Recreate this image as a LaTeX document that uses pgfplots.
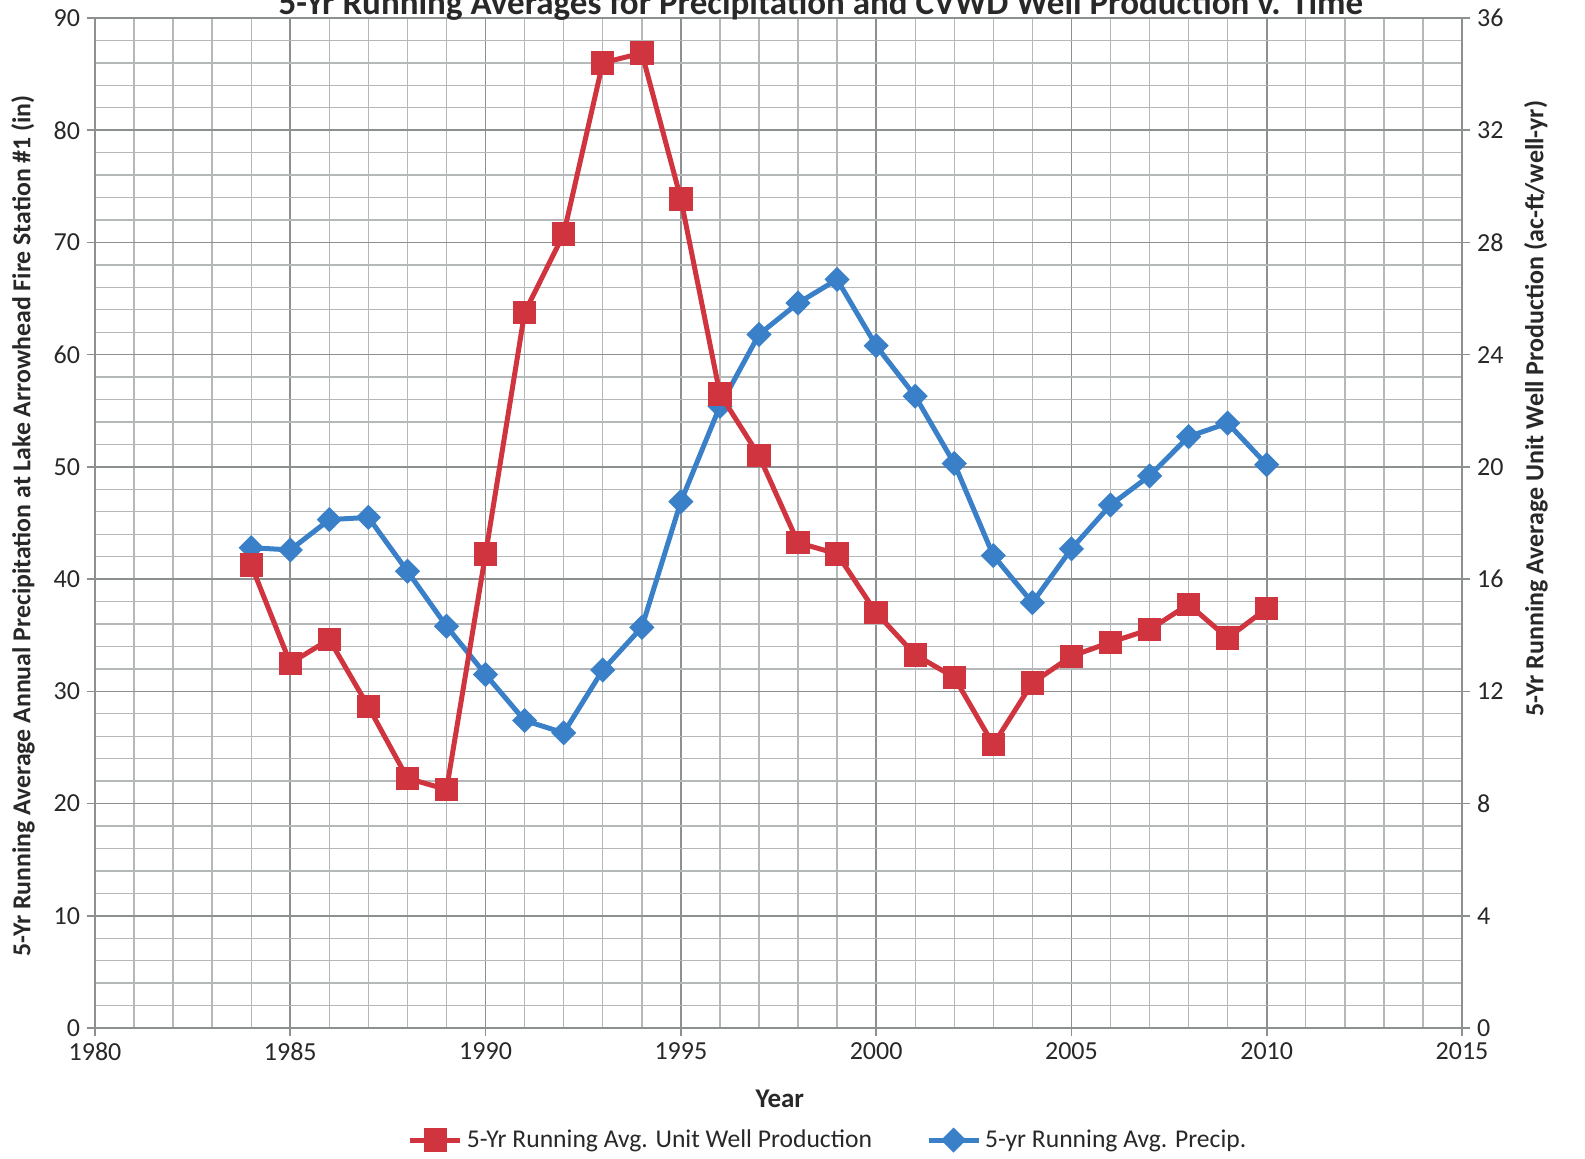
\documentclass[border=0pt]{standalone}
\usepackage{pgfplots}
\pgfplotsset{compat=1.18}
\usepackage{fontspec}
\setmainfont{Carlito}
\definecolor{redS}{RGB}{208,52,63}
\definecolor{blueS}{RGB}{58,128,200}
\definecolor{gridminor}{RGB}{180,184,184}
\definecolor{gridmajor}{RGB}{140,144,144}
\definecolor{txt}{RGB}{40,40,40}
\begin{document}
\begin{tikzpicture}
\pgfplotsset{
  base/.style={
    at={(0,0)}, anchor=south west,
    width=683.5pt, height=505pt, scale only axis,
    xmin=1980, xmax=2015,
    /pgf/number format/assume math mode=true,
    /pgf/number format/1000 sep={},
    tick label style={font=\fontsize{13}{15}\selectfont, text=txt},
    tick align=outside, major tick length=4pt, minor tick length=0pt,
    tick style={gridmajor, line width=0.8pt},
  }
}
\begin{axis}[base,
  ymin=0, ymax=90, ytick={0,10,...,90},
  xtick={1980,1985,...,2015}, minor x tick num=4, minor y tick num=4,
  grid=both,
  major grid style={gridmajor, line width=0.8pt},
  minor grid style={gridminor, line width=0.7pt},
  axis line style={gridmajor, line width=0.9pt},
  axis y line*=left, axis x line*=bottom,
  xlabel={Year},
  every axis x label/.style={at={(axis description cs:0.501,-0.0703)}, anchor=center,
    font=\bfseries\fontsize{13.5}{16}\selectfont, text=txt},
  ylabel={5-Yr Running Average Annual Precipitation at Lake Arrowhead Fire Station \#1 (in)},
  every axis y label/.style={at={(axis description cs:-0.0527,0.497)}, anchor=center, rotate=90,
    font=\bfseries\fontsize{12.9}{16}\selectfont, text=txt},
]
\addplot[blueS, line width=2.5pt, mark=square*, mark size=3.2pt, mark options={rotate=45, solid}] coordinates {
(1984,42.8) (1985,42.6) (1986,45.3) (1987,45.5) (1988,40.7) (1989,35.8)
(1990,31.5) (1991,27.4) (1992,26.3) (1993,31.9) (1994,35.7) (1995,46.9)
(1996,55.4) (1997,61.8) (1998,64.6) (1999,66.7) (2000,60.8) (2001,56.3)
(2002,50.3) (2003,42.1) (2004,37.9) (2005,42.7) (2006,46.6) (2007,49.2)
(2008,52.7) (2009,53.9) (2010,50.2)};
\end{axis}
\begin{axis}[base,
  ymin=0, ymax=36, ytick={0,4,...,36},
  axis y line*=right, axis x line=none,
  axis line style={gridmajor, line width=0.9pt},
  ylabel={5-Yr Running Average Unit Well Production (ac-ft/well-yr)},
  every axis y label/.style={at={(axis description cs:1.054,0.613)}, anchor=center, rotate=90,
    font=\bfseries\fontsize{13}{16}\selectfont, text=txt},
  legend columns=2,
  legend style={draw=none, fill=none, at={(0.537,-0.111)}, anchor=center,
    font=\fontsize{12.8}{15}\selectfont, text=txt,
    /tikz/every even column/.append style={column sep=25pt}},
  legend image code/.code={\draw[mark repeat=2,mark phase=2,#1] plot coordinates {(0pt,0pt)(12.5pt,0pt)(25pt,0pt)};},
]
\addplot[redS, line width=2.5pt, mark=square*, mark size=4.6pt, mark options={solid}] coordinates {
(1984,16.5) (1985,13.0) (1986,13.85) (1987,11.45) (1988,8.9) (1989,8.5)
(1990,16.9) (1991,25.5) (1992,28.3) (1993,34.4) (1994,34.75) (1995,29.55)
(1996,22.6) (1997,20.4) (1998,17.3) (1999,16.9) (2000,14.8) (2001,13.3)
(2002,12.5) (2003,10.1) (2004,12.3) (2005,13.25) (2006,13.75) (2007,14.2)
(2008,15.1) (2009,13.9) (2010,14.95)};
\addlegendentry{5-Yr Running Avg. Unit Well Production}
\addlegendimage{blueS, line width=2.5pt, mark=square*, mark size=3.2pt, mark options={rotate=45, solid}}
\addlegendentry{5-yr Running Avg. Precip.}
\end{axis}
\node[anchor=base, font=\bfseries\fontsize{17.5}{20}\selectfont, text=txt] at (363pt,506.5pt)
  {5-Yr Running Averages for Precipitation and CVWD Well Production v. Time};
\pgfresetboundingbox
\useasboundingbox (-47.5pt,-65.5pt) rectangle (745pt,514pt);
\end{tikzpicture}
\end{document}
